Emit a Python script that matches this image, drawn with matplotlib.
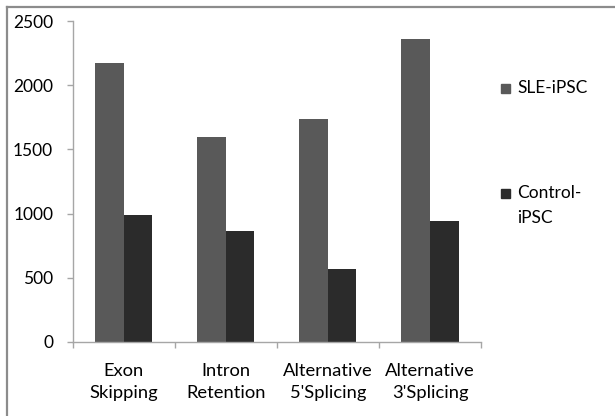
import matplotlib.pyplot as plt
from matplotlib.lines import Line2D
from matplotlib.patches import Rectangle

categories = ["Exon\nSkipping", "Intron\nRetention", "Alternative\n5'Splicing", "Alternative\n3'Splicing"]
sle_ipsc = [2170, 1597, 1737, 2357]
control_ipsc = [989, 867, 568, 945]

sle_color = "#595959"
ctrl_color = "#2b2b2b"
axis_gray = "#a6a6a6"

plt.rcParams['font.family'] = ['Lato', 'DejaVu Sans']
plt.rcParams['font.size'] = 12.5

fig = plt.figure(figsize=(6.15, 4.16), dpi=100)
ax = fig.add_axes([0.1182, 0.1779, 0.7821 - 0.1182, 0.9495 - 0.1779])

x = range(len(categories))
w = 0.28
ax.bar([i - w / 2 for i in x], sle_ipsc, width=w, color=sle_color)
ax.bar([i + w / 2 for i in x], control_ipsc, width=w, color=ctrl_color)

ax.set_xlim(-0.5, len(categories) - 0.5)
ax.set_ylim(0, 2500)
ax.set_yticks([0, 500, 1000, 1500, 2000, 2500])

# category labels centred, ticks only at the group boundaries
ax.set_xticks(list(x))
ax.set_xticklabels(categories, linespacing=1.5, fontsize=13.2)
ax.set_xticks([i - 0.5 for i in range(len(categories) + 1)], minor=True)
ax.tick_params(axis='x', which='major', length=0, pad=15)
ax.tick_params(axis='x', which='minor', length=4.5, color=axis_gray, width=1)
ax.tick_params(axis='y', length=4, color=axis_gray, width=1, pad=10)

for s in ['top', 'right']:
    ax.spines[s].set_visible(False)
for s in ['left', 'bottom']:
    ax.spines[s].set_color(axis_gray)
    ax.spines[s].set_linewidth(1)

# legend on the right
lx = 500.5 / 615
sq_w = 9.5 / 615
sq_h = 9.5 / 416
fig.patches.append(Rectangle((lx, 1 - 93 / 416), sq_w, sq_h, transform=fig.transFigure,
                             color=sle_color, figure=fig))
fig.text(517 / 615, 1 - 88 / 416, "SLE-iPSC", va='center', ha='left')
fig.patches.append(Rectangle((lx, 1 - 198 / 416), sq_w, sq_h, transform=fig.transFigure,
                             color=ctrl_color, figure=fig))
fig.text(517 / 615, 1 - 193 / 416, "Control-", va='center', ha='left')
fig.text(517 / 615, 1 - 218 / 416, "iPSC", va='center', ha='left')

# outer frame
fig.lines.append(Line2D([7 / 615, 1], [1 - 6.5 / 416, 1 - 6.5 / 416], transform=fig.transFigure,
                        color="#8c8c8c", linewidth=1.6))
fig.lines.append(Line2D([7 / 615, 7 / 615], [0, 1 - 6.5 / 416], transform=fig.transFigure,
                        color="#8c8c8c", linewidth=1.6))

fig.savefig("out.png", dpi=100)
